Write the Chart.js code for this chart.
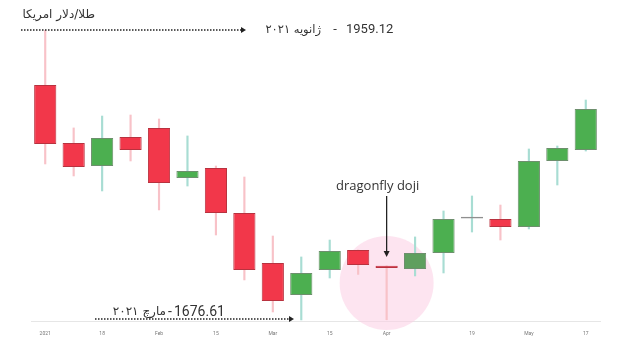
<!DOCTYPE html>
<html>
<head>
<meta charset="utf-8">
<script src="https://cdn.jsdelivr.net/npm/chart.js@4/dist/chart.umd.min.js"></script>
<style>
  html, body { margin: 0; padding: 0; background: #fff; }
  canvas { display: block; }
</style>
</head>
<body>
<canvas id="chart" width="617" height="345"></canvas>
<script>
// weekly XAU/USD candles, Jan - May 2021
const labels = ['2021', '', '18', '', 'Feb', '', '15', '', 'Mar', '', '15', '', 'Apr', '', '', '19', '', 'May', '', '17'];
const opens  = [1905.5, 1849.0, 1826.6, 1854.9, 1863.7, 1814.9, 1824.7, 1780.9, 1732.1, 1701.0, 1725.3, 1744.8, 1729.4, 1726.3, 1741.9, 1775.4, 1775.0, 1767.2, 1831.5, 1842.2];
const closes = [1848.1, 1825.7, 1853.9, 1842.2, 1810.1, 1821.8, 1780.9, 1725.3, 1695.1, 1722.4, 1743.8, 1730.2, 1727.2, 1741.9, 1775.0, 1777.2, 1767.2, 1831.5, 1844.2, 1882.2];
const highs  = [1959.12, 1863.7, 1875.3, 1876.3, 1872.4, 1855.9, 1826.6, 1815.9, 1758.4, 1738.0, 1754.5, 1744.8, 1729.4, 1757.5, 1782.8, 1797.4, 1788.6, 1843.2, 1846.1, 1890.9];
const lows   = [1828.6, 1816.9, 1802.3, 1831.5, 1783.8, 1807.1, 1759.4, 1715.6, 1684.4, 1676.61, 1717.5, 1721.0, 1676.8, 1719.5, 1722.4, 1762.3, 1754.5, 1765.3, 1808.1, 1841.2];

const yMin = 1675.6;
const yMax = 1959.12;
const dojiIndex = 12;

const RED = '#f2374a';
const GREEN = '#4caf50';

// a rising candle with almost no body is drawn as a plain gray cross
function isFlat(i) {
  return closes[i] >= opens[i] && closes[i] - opens[i] < 2.5;
}
function bodyColor(i) {
  if (isFlat(i)) return '#8f8f8f';
  if (i === 13) return '#5f9f5f';
  return closes[i] < opens[i] ? RED : GREEN;
}
function bodyBorder(i) {
  if (isFlat(i)) return '#8f8f8f';
  return closes[i] < opens[i] ? '#b8323f' : '#6d8f6d';
}
function wickColor(i) {
  return closes[i] < opens[i] ? '#f8c2c8' : '#a8ddd3';
}

const bodies = opens.map((o, i) => [o, closes[i]]);
const wicks = lows.map((l, i) => [l, highs[i]]);

function dottedArrow(ctx, x1, x2, y) {
  ctx.save();
  ctx.strokeStyle = '#222';
  ctx.fillStyle = '#222';
  ctx.lineWidth = 1.5;
  ctx.setLineDash([1.5, 1.5]);
  ctx.beginPath();
  ctx.moveTo(x1, y);
  ctx.lineTo(x2 - 3, y);
  ctx.stroke();
  ctx.setLineDash([]);
  ctx.beginPath();
  ctx.moveTo(x2, y);
  ctx.lineTo(x2 - 5, y - 3);
  ctx.lineTo(x2 - 5, y + 3);
  ctx.closePath();
  ctx.fill();
  ctx.restore();
}

const annotations = {
  id: 'annotations',
  beforeDatasetsDraw(chart) {
    const ctx = chart.ctx;
    const x = chart.scales.x.getPixelForValue(dojiIndex);
    ctx.save();
    ctx.fillStyle = 'rgba(251, 205, 228, 0.55)';
    ctx.beginPath();
    ctx.arc(x, 283, 47, 0, Math.PI * 2);
    ctx.fill();
    ctx.restore();
  },
  afterDraw(chart) {
    const ctx = chart.ctx;
    const xs = chart.scales.x;
    const ys = chart.scales.y;
    ctx.save();
    ctx.fillStyle = '#333';
    ctx.textBaseline = 'middle';

    // title
    ctx.font = '12px "DejaVu Sans"';
    ctx.textAlign = 'right';
    ctx.fillText('طلا/دلار امریکا', 95, 15);

    // high of the period
    const yHigh = ys.getPixelForValue(highs[0]);
    dottedArrow(ctx, 21, 246, yHigh);
    ctx.font = '11.5px "DejaVu Sans"';
    ctx.textAlign = 'right';
    ctx.fillText('ژانویه ۲۰۲۱', 321, yHigh);
    ctx.font = '13px Roboto';
    ctx.textAlign = 'center';
    ctx.fillText('-', 335, yHigh);
    ctx.textAlign = 'left';
    ctx.fillText(highs[0].toFixed(2), 346, yHigh);

    // low of the period
    const yLow = ys.getPixelForValue(lows[9]) - 1;
    dottedArrow(ctx, 95, 294, yLow);
    ctx.font = '12px "DejaVu Sans"';
    ctx.textAlign = 'right';
    ctx.fillText('مارچ ۲۰۲۱', 166, 312);
    ctx.font = '14px Roboto';
    ctx.textAlign = 'center';
    ctx.fillText('-', 170, 312);
    ctx.textAlign = 'left';
    ctx.fillText(lows[9].toFixed(2), 174, 312);

    // doji label + arrow
    const dx = xs.getPixelForValue(dojiIndex);
    ctx.font = '13px "Open Sans"';
    ctx.textAlign = 'center';
    ctx.fillText('dragonfly doji', dx - 9, 186);
    ctx.strokeStyle = '#222';
    ctx.lineWidth = 1.3;
    ctx.beginPath();
    ctx.moveTo(dx, 196);
    ctx.lineTo(dx, 253);
    ctx.stroke();
    ctx.fillStyle = '#222';
    ctx.beginPath();
    ctx.moveTo(dx, 257);
    ctx.lineTo(dx - 3, 251);
    ctx.lineTo(dx + 3, 251);
    ctx.closePath();
    ctx.fill();
    ctx.restore();
  }
};

new Chart(document.getElementById('chart').getContext('2d'), {
  type: 'bar',
  data: {
    labels: labels,
    datasets: [
      {
        label: 'body',
        data: bodies,
        grouped: false,
        order: 1,
        backgroundColor: opens.map((_, i) => bodyColor(i)),
        borderColor: opens.map((_, i) => bodyBorder(i)),
        borderWidth: 1,
        borderSkipped: false,
        categoryPercentage: 1,
        barPercentage: 0.78
      },
      {
        label: 'wick',
        data: wicks,
        grouped: false,
        order: 2,
        backgroundColor: opens.map((_, i) => wickColor(i)),
        borderWidth: 0,
        barThickness: 1.5
      }
    ]
  },
  options: {
    responsive: false,
    animation: false,
    devicePixelRatio: 1,
    layout: { padding: { left: 31, right: 17, top: 30, bottom: 0 } },
    plugins: {
      legend: { display: false },
      tooltip: { enabled: false }
    },
    scales: {
      x: {
        grid: { display: false },
        border: { display: true, color: '#e6e6e6', width: 1 },
        ticks: {
          autoSkip: false,
          maxRotation: 0,
          padding: 2,
          color: '#777',
          font: { size: 5, family: 'Roboto' }
        },
        afterFit(scale) { scale.height = 24; }
      },
      y: {
        display: false,
        min: yMin,
        max: yMax
      }
    }
  },
  plugins: [annotations]
});
</script>
</body>
</html>
